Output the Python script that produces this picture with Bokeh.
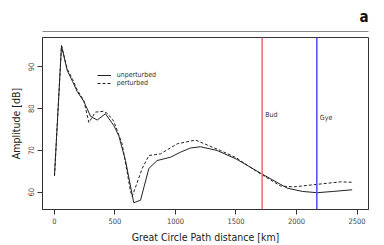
from bokeh.plotting import figure
from bokeh.models import (Span, Label, Legend, LegendItem, LinearAxis, FixedTicker,
                          Range1d, Title)
from bokeh.embed import file_html
from bokeh.resources import INLINE

FONT = "DejaVu Sans Condensed"

# distance [km] and amplitude [dB]
unpert_x = [0, 58, 105, 150, 188, 242, 298, 353, 421, 490, 532, 587, 655, 711,
            780, 848, 959, 1041, 1124, 1207, 1345, 1500, 1702, 1923, 2050, 2171,
            2300, 2460]
unpert_y = [63.9, 95.1, 89.2, 86.5, 84.1, 81.8, 78.2, 77.3, 78.8, 76.0, 73.5,
            67.6, 57.5, 58.1, 65.7, 67.6, 68.4, 69.6, 70.6, 70.9, 70.0, 68.0,
            64.6, 61.0, 60.2, 59.9, 60.2, 60.6]

pert_x = [0, 58, 105, 150, 188, 242, 284, 339, 407, 440, 490, 559, 628, 642,
          725, 780, 876, 1014, 1165, 1372, 1500, 1675, 1868, 1978, 2171, 2364,
          2460]
pert_y = [63.9, 95.1, 89.6, 87.0, 84.5, 82.0, 76.7, 79.2, 79.4, 78.8, 77.0,
          71.6, 60.3, 59.0, 65.7, 68.8, 69.2, 71.6, 72.5, 70.0, 68.3, 64.9,
          61.5, 61.3, 61.9, 62.5, 62.4]

station_names = ["Bud", "Gye"]
station_dist = [1716, 2168]
station_label_y = [78.4, 77.9]
station_colors = ["#f26b6b", "#4b4bf5"]

x_ticks = [0, 500, 1000, 1500, 2000, 2500]
y_ticks = [60, 70, 80, 90]

p = figure(width=384, height=245, output_backend="svg", toolbar_location=None,
           x_range=Range1d(-99, 2595), y_range=Range1d(55.88, 97.06),
           min_border_left=42, min_border_right=16, min_border_top=35,
           min_border_bottom=35, x_axis_type=None, y_axis_type=None)
p.background_fill_color = "white"
p.border_fill_color = "white"
p.outline_line_color = "#333333"
p.outline_line_width = 1
p.xgrid.visible = False
p.ygrid.visible = False

def style_axis(ax):
    ax.axis_line_color = "#333333"
    ax.major_tick_line_color = "#333333"
    ax.major_tick_out = 5
    ax.major_tick_in = 0
    ax.minor_tick_line_color = None
    ax.major_label_text_font = FONT
    ax.major_label_text_font_size = "7.5px"
    ax.major_label_text_color = "#444444"
    ax.axis_label_text_font = FONT
    ax.axis_label_text_font_size = "10.5px"
    ax.axis_label_text_font_style = "normal"
    ax.axis_label_text_color = "#222222"
    ax.major_label_standoff = 3
    ax.axis_label_standoff = 4

xax = LinearAxis(ticker=FixedTicker(ticks=x_ticks),
                 axis_label="Great Circle Path distance [km]")
style_axis(xax)
p.add_layout(xax, "below")

yax = LinearAxis(ticker=FixedTicker(ticks=y_ticks), axis_label="Amplitude [dB]",
                 major_label_orientation="vertical")
style_axis(yax)
p.add_layout(yax, "left")

# spacer axis + separator line above the plot
spacer = LinearAxis(ticker=FixedTicker(ticks=[1000]))
spacer.axis_line_color = None
spacer.major_tick_line_color = None
spacer.major_tick_out = 6
spacer.major_tick_in = 0
spacer.minor_tick_line_color = None
spacer.major_label_text_color = None
spacer.major_label_text_font_size = "0px"
spacer.major_label_standoff = 0
p.add_layout(spacer, "above")

sep = LinearAxis(ticker=FixedTicker(ticks=[]))
sep.axis_line_color = "#888888"
sep.axis_line_width = 1
sep.major_tick_line_color = None
sep.minor_tick_line_color = None
sep.major_label_text_color = None
sep.major_label_text_font_size = "0px"
p.add_layout(sep, "above")

p.add_layout(Title(text="a", align="right", text_font=FONT, text_font_size="15px",
                   text_font_style="bold", text_color="#111111", standoff=11),
             "above")

r1 = p.line(unpert_x, unpert_y, line_color="#222222", line_width=1)
r2 = p.line(pert_x, pert_y, line_color="#222222", line_width=1, line_dash="3 2")

for d, c in zip(station_dist, station_colors):
    p.add_layout(Span(location=d, dimension="height", line_color=c, line_width=1.5))

for name, d, ly in zip(station_names, station_dist, station_label_y):
    p.add_layout(Label(x=d, y=ly, x_offset=3, text=name,
                       text_font=FONT, text_font_size="7px", text_color="#333333",
                       text_baseline="middle"))

legend = Legend(items=[LegendItem(label="unperturbed", renderers=[r1]),
                       LegendItem(label="perturbed", renderers=[r2])],
                location=(54.7, 122), orientation="vertical")
legend.border_line_color = None
legend.background_fill_color = None
legend.background_fill_alpha = 0
legend.padding = 0
legend.margin = 0
legend.spacing = 0
legend.glyph_width = 14
legend.glyph_height = 8
legend.label_height = 8
legend.label_standoff = 6
legend.label_text_font = FONT
legend.label_text_font_size = "7px"
legend.label_text_color = "#333333"
p.add_layout(legend, "center")

open("out.html", "w").write(file_html(p, INLINE))
